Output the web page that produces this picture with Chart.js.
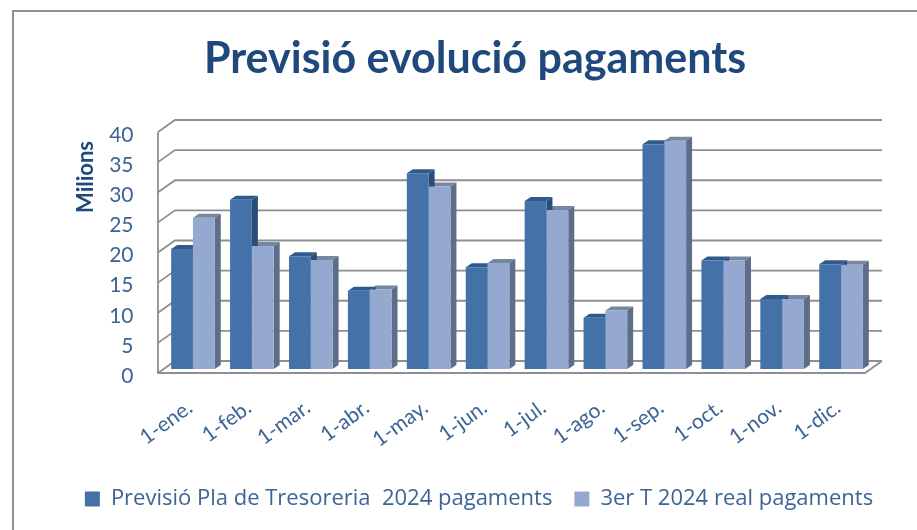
<!DOCTYPE html>
<html>
<head>
<meta charset="utf-8">
<title>Previsió evolució pagaments</title>
<script src="https://cdn.jsdelivr.net/npm/chart.js@4"></script>
<style>
  html, body { margin: 0; padding: 0; background: #fff; }
  #wrap { position: relative; width: 917px; height: 530px; overflow: hidden; }
  #frame { position: absolute; left: 12px; top: 10px; width: 920px; height: 540px;
           border-top: 2px solid #8f8f8f; border-left: 2px solid #8f8f8f; }
  canvas { position: absolute; left: 0; top: 0; }
</style>
</head>
<body>
<div id="wrap">
  <div id="frame"></div>
  <canvas id="chart" width="917" height="530"></canvas>
</div>
<script>
const categories = ['1-ene.', '1-feb.', '1-mar.', '1-abr.', '1-may.', '1-jun.', '1-jul.', '1-ago.', '1-sep.', '1-oct.', '1-nov.', '1-dic.'];
const previsio = [19.9, 28.1, 18.7, 13.0, 32.5, 16.9, 27.9, 8.5, 37.3, 18.0, 11.6, 17.4];
const real = [25.1, 20.4, 18.1, 13.2, 30.3, 17.6, 26.4, 9.7, 37.9, 18.0, 11.6, 17.3];
const seriesNames = ['Previsió Pla de Tresoreria  2024 pagaments', '3er T 2024 real pagaments'];

const textBlue = '#3c6496';
const titleBlue = '#1f497d';
const gridGrey = '#8f8f8f';
const fontName = 'Lato, "Open Sans", sans-serif';

// shading of the 3d sides, one pair per series
const sideColors = ['#2a4d78', '#5e6d88'];
const topColors = ['#2f5a8c', '#76879f'];

// bar depth
const barDepth = { x: 6, y: 4 };
// where the walls sit compared to the plane of the bars
const frontShift = { x: -5.5, y: 4 };
const backShift = { x: 11.5, y: -8 };

const fakeDepth = {
  id: 'fakeDepth',
  afterLayout(chart) {
    // legend is centred a bit right of the title
    chart.legend.left += 4;
    chart.legend.right += 4;
  },
  beforeDatasetsDraw(chart) {
    const ctx = chart.ctx;
    const ys = chart.scales.y;
    const left = chart.chartArea.left;
    const right = chart.chartArea.right;

    ctx.save();
    ctx.strokeStyle = gridGrey;
    ctx.lineWidth = 1.8;

    // back wall lines and their diagonals on the left wall
    ys.ticks.forEach(t => {
      const y = ys.getPixelForValue(t.value);
      ctx.beginPath();
      ctx.moveTo(left + frontShift.x, y + frontShift.y);
      ctx.lineTo(left + backShift.x, y + backShift.y);
      ctx.lineTo(right + backShift.x, y + backShift.y);
      ctx.stroke();
    });

    // left wall upright
    ctx.beginPath();
    ctx.moveTo(left + frontShift.x, ys.getPixelForValue(40) + frontShift.y);
    ctx.lineTo(left + frontShift.x, ys.getPixelForValue(0) + frontShift.y);
    // floor edge
    ctx.lineTo(right + frontShift.x, ys.getPixelForValue(0) + frontShift.y);
    ctx.lineTo(right + backShift.x, ys.getPixelForValue(0) + backShift.y);
    ctx.stroke();

    // sides and tops, second series first so the first one's side stays on top
    for (let d = chart.data.datasets.length - 1; d >= 0; d--) {
      chart.getDatasetMeta(d).data.forEach(bar => {
        const p = bar.getProps(['x', 'y', 'base', 'width'], true);
        const l = p.x - p.width / 2;
        const r = p.x + p.width / 2;

        ctx.fillStyle = topColors[d];
        ctx.beginPath();
        ctx.moveTo(l, p.y);
        ctx.lineTo(l + barDepth.x, p.y - barDepth.y);
        ctx.lineTo(r + barDepth.x, p.y - barDepth.y);
        ctx.lineTo(r, p.y);
        ctx.closePath();
        ctx.fill();

        ctx.fillStyle = sideColors[d];
        ctx.beginPath();
        ctx.moveTo(r, p.y);
        ctx.lineTo(r + barDepth.x, p.y - barDepth.y);
        ctx.lineTo(r + barDepth.x, p.base - barDepth.y);
        ctx.lineTo(r, p.base);
        ctx.closePath();
        ctx.fill();
      });
    }
    ctx.restore();
  },
  afterDraw(chart) {
    // axis title sits high up next to the ticks, not centred on the axis
    const ctx = chart.ctx;
    ctx.save();
    ctx.translate(86, 177);
    ctx.rotate(-Math.PI / 2);
    ctx.font = 'bold 22px ' + fontName;
    ctx.fillStyle = titleBlue;
    ctx.textAlign = 'center';
    ctx.textBaseline = 'middle';
    ctx.fillText('Milions', 0, 0);
    ctx.restore();
  },
};

new Chart(document.getElementById('chart'), {
  type: 'bar',
  data: {
    labels: categories,
    datasets: [
      { label: seriesNames[0], data: previsio, backgroundColor: '#4472a8' },
      { label: seriesNames[1], data: real, backgroundColor: '#95a9d0' },
    ],
  },
  plugins: [fakeDepth],
  options: {
    responsive: false,
    animation: false,
    layout: { padding: { left: 49.5, right: 16.5, top: 0, bottom: 10 } },
    datasets: { bar: { categoryPercentage: 0.74, barPercentage: 1 } },
    plugins: {
      tooltip: { enabled: false },
      title: {
        display: true,
        text: 'Previsió evolució pagaments',
        color: titleBlue,
        font: { family: fontName, size: 43, weight: 'bold' },
        padding: { top: 33, bottom: 43.4 },
      },
      legend: {
        position: 'bottom',
        labels: {
          color: textBlue,
          font: { family: '"Open Sans", sans-serif', size: 22 },
          boxWidth: 15,
          boxHeight: 15,
          padding: 22,
        },
      },
    },
    scales: {
      x: {
        grid: { display: false },
        border: { display: false },
        afterFit(scale) { scale.height = 97; },
        ticks: {
          color: textBlue,
          font: { family: fontName, size: 21 },
          minRotation: 36,
          maxRotation: 36,
          autoSkip: false,
          padding: 18,
          labelOffset: -3,
        },
      },
      y: {
        min: 0,
        max: 40,
        grid: { display: false },
        border: { display: false },
        afterFit(scale) { scale.width = 114; },
        ticks: {
          stepSize: 5,
          color: textBlue,
          font: { family: fontName, size: 21 },
          padding: 22,
          labelOffset: 7,
        },
      },
      // empty axis, only keeps the margin right of the plot
      spacer: {
        position: 'right',
        grid: { display: false },
        border: { display: false },
        ticks: { display: false },
        afterFit(scale) { scale.width = 30; },
      },
    },
  },
});
</script>
</body>
</html>
